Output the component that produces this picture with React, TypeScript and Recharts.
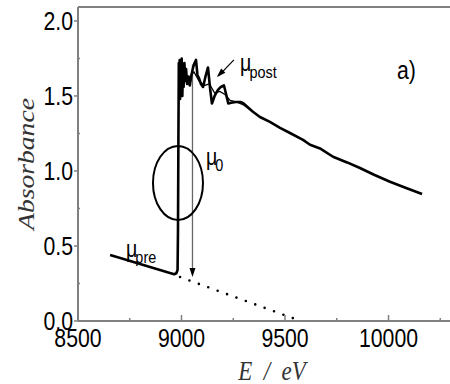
import React from "react";
import { LineChart, Line, XAxis, YAxis, ReferenceLine, ReferenceDot } from "recharts";

// measured absorption spectrum (energy in eV, absorbance)
const spectrumE = [
  8655, 8700, 8760, 8820, 8880, 8940, 8965, 8975, 8981, 8983, 8985, 8987, 8989, 8991,
  8993, 8995, 8998, 9001, 9004, 9007, 9010, 9014, 9018, 9022, 9027, 9033, 9040, 9048,
  9056, 9063, 9070, 9077, 9084, 9094, 9104, 9116, 9128, 9138, 9147, 9160, 9176, 9190,
  9205, 9214, 9226, 9240, 9262, 9285, 9300, 9316, 9345, 9379, 9427, 9476, 9524, 9587,
  9621, 9669, 9732, 9800, 9862, 9930, 10007, 10085, 10162,
];
const spectrumA = [
  0.44, 0.422, 0.397, 0.372, 0.347, 0.322, 0.312, 0.318, 0.34, 0.6, 1.2, 1.72, 1.55, 1.74,
  1.48, 1.73, 1.52, 1.75, 1.5, 1.71, 1.56, 1.72, 1.6, 1.68, 1.58, 1.63, 1.57, 1.64,
  1.69, 1.72, 1.74, 1.64, 1.62, 1.58, 1.56, 1.63, 1.69, 1.55, 1.45, 1.5, 1.54, 1.56,
  1.57, 1.52, 1.45, 1.455, 1.46, 1.46, 1.45, 1.43, 1.395, 1.36, 1.327, 1.287, 1.253, 1.207,
  1.175, 1.15, 1.095, 1.057, 1.02, 0.975, 0.928, 0.886, 0.847,
];

// smooth post-edge background (mu_post)
const postE = [8990, 9010, 9035, 9060, 9085, 9110, 9135, 9160, 9185, 9210, 9235, 9265, 9300, 9340];
const postA = [1.68, 1.63, 1.62, 1.66, 1.6, 1.57, 1.58, 1.52, 1.53, 1.51, 1.47, 1.46, 1.44, 1.4];

// extrapolated pre-edge line (mu_pre)
const preE = [8993, 9576];
const preA = [0.293, 0.0];

const xTicks = [8500, 8750, 9000, 9250, 9500, 9750, 10000, 10250];
const yTicks = [0, 0.25, 0.5, 0.75, 1.0, 1.25, 1.5, 1.75, 2.0];

const spectrum = spectrumE.map((e, i) => ({ e, a: spectrumA[i] }));
const postLine = postE.map((e, i) => ({ e, a: postA[i] }));
const preLine = preE.map((e, i) => ({ e, a: preA[i] }));

const AXIS = "#808080";
const SANS = "'Liberation Sans', Arial, sans-serif";
const SERIF = "'Liberation Serif', 'Times New Roman', serif";

const XTick = ({ x, y, payload }: any) => {
  const major = payload.value % 500 === 0;
  return (
    <g>
      <line x1={x} x2={x} y1={y} y2={y - (major ? 6 : 3)} stroke={AXIS} strokeWidth={1.5} />
      {major && (
        <text transform={`translate(${x},${y + 26}) scale(0.85,1)`} textAnchor="middle" fontSize={25} fontFamily={SANS} fill="#000">
          {payload.value}
        </text>
      )}
    </g>
  );
};

const YTick = ({ x, y, payload }: any) => {
  const major = Math.abs(payload.value * 2 - Math.round(payload.value * 2)) < 1e-6;
  return (
    <g>
      {major ? (
        <line x1={x - 4} x2={x} y1={y} y2={y} stroke={AXIS} strokeWidth={1.5} />
      ) : (
        <line x1={x} x2={x + 2} y1={y} y2={y} stroke={AXIS} strokeWidth={1.5} />
      )}
      {major && (
        <text transform={`translate(${x - 5},${y + 9}) scale(0.85,1)`} textAnchor="end" fontSize={25} fontFamily={SANS} fill="#000">
          {payload.value.toFixed(1)}
        </text>
      )}
    </g>
  );
};

// text labels anchored at data coordinates
const muLabel = (sub: string, dx: number, dy: number) => (props: any) => (
  <g transform={`translate(${props.cx},${props.cy}) scale(0.85,1)`}>
    <text x={0} y={0} fontSize={23} fontFamily={SANS} fill="#000">μ</text>
    <text x={dx} y={dy} fontSize={17} fontFamily={SANS} fill="#000">{sub}</text>
  </g>
);

const panelLabel = (props: any) => (
  <text transform={`translate(${props.cx},${props.cy}) scale(0.85,1)`} fontSize={25} fontFamily={SANS} fill="#000">
    a)
  </text>
);

const ellipse = (props: any) => (
  <ellipse cx={props.cx} cy={props.cy} rx={25} ry={37} fill="none" stroke="#000" strokeWidth={2} />
);

const arrowHead = (angle: number, color: string) => (props: any) => (
  <polygon
    points="0,0 -3,-9 3,-9"
    transform={`translate(${props.cx},${props.cy}) rotate(${angle})`}
    fill={color}
  />
);

const YTitle = ({ viewBox }: any) => (
  <text
    transform={`translate(${viewBox.x + 16},${viewBox.y + viewBox.height / 2}) rotate(-90) scale(1.2,1)`}
    textAnchor="middle"
    fontSize={23}
    fontStyle="italic"
    fontFamily={SERIF}
    fill="#333"
  >
    Absorbance
  </text>
);

const XTitle = ({ viewBox }: any) => (
  <text
    transform={`translate(${viewBox.x + 194},${viewBox.y + 59}) scale(1,1.2)`}
    textAnchor="middle"
    fontSize={23}
    fontStyle="italic"
    fontFamily={SERIF}
    fill="#333"
    style={{ whiteSpace: "pre" }}
  >
    {"E  /  eV"}
  </text>
);

export default function App() {
  return (
    <div style={{ position: "absolute", left: 0, top: 0, background: "#fff" }}>
      <LineChart width={450} height={384} margin={{ top: 7, right: 0, bottom: 0, left: 18 }}>
        <XAxis
          type="number"
          dataKey="e"
          domain={[8500, 10297]}
          ticks={xTicks}
          interval={0}
          tick={<XTick />}
          tickLine={false}
          tickSize={0}
          tickMargin={0}
          height={63}
          axisLine={{ stroke: AXIS, strokeWidth: 2 }}
          allowDataOverflow
          label={<XTitle />}
        />
        <YAxis
          type="number"
          domain={[0, 2.093]}
          ticks={yTicks}
          interval={0}
          tick={<YTick />}
          tickLine={false}
          tickSize={0}
          tickMargin={0}
          width={60}
          axisLine={{ stroke: AXIS, strokeWidth: 2 }}
          allowDataOverflow
          label={<YTitle />}
        />
        <ReferenceLine y={2.093} stroke={AXIS} strokeWidth={2} />
        <Line data={preLine} dataKey="a" stroke="#000" strokeWidth={2.6} strokeDasharray="0 10" strokeLinecap="round" dot={false} isAnimationActive={false} />
        <ReferenceLine segment={[{ x: 9053, y: 1.71 }, { x: 9053, y: 0.31 }]} stroke="#666" strokeWidth={1.3} />
        <ReferenceDot x={9053} y={0.293} shape={arrowHead(0, "#000")} />
        <Line data={postLine} dataKey="a" stroke="#000" strokeWidth={1.3} dot={false} type="linear" isAnimationActive={false} />
        <Line data={spectrum} dataKey="a" stroke="#000" strokeWidth={2.6} strokeLinejoin="round" dot={false} type="linear" isAnimationActive={false} />
        <ReferenceLine segment={[{ x: 9253, y: 1.74 }, { x: 9178, y: 1.632 }]} stroke="#000" strokeWidth={1.2} />
        <ReferenceDot x={9171} y={1.627} shape={arrowHead(45, "#000")} />
        <ReferenceDot x={8983} y={0.92} shape={ellipse} />
        <ReferenceDot x={9283} y={1.667} shape={muLabel("post", 11, 7)} />
        <ReferenceDot x={9118} y={1.04} shape={muLabel("0", 11, 6)} />
        <ReferenceDot x={8732} y={0.427} shape={muLabel("pre", 11, 6)} />
        <ReferenceDot x={10041} y={1.613} shape={panelLabel} />
      </LineChart>
    </div>
  );
}
